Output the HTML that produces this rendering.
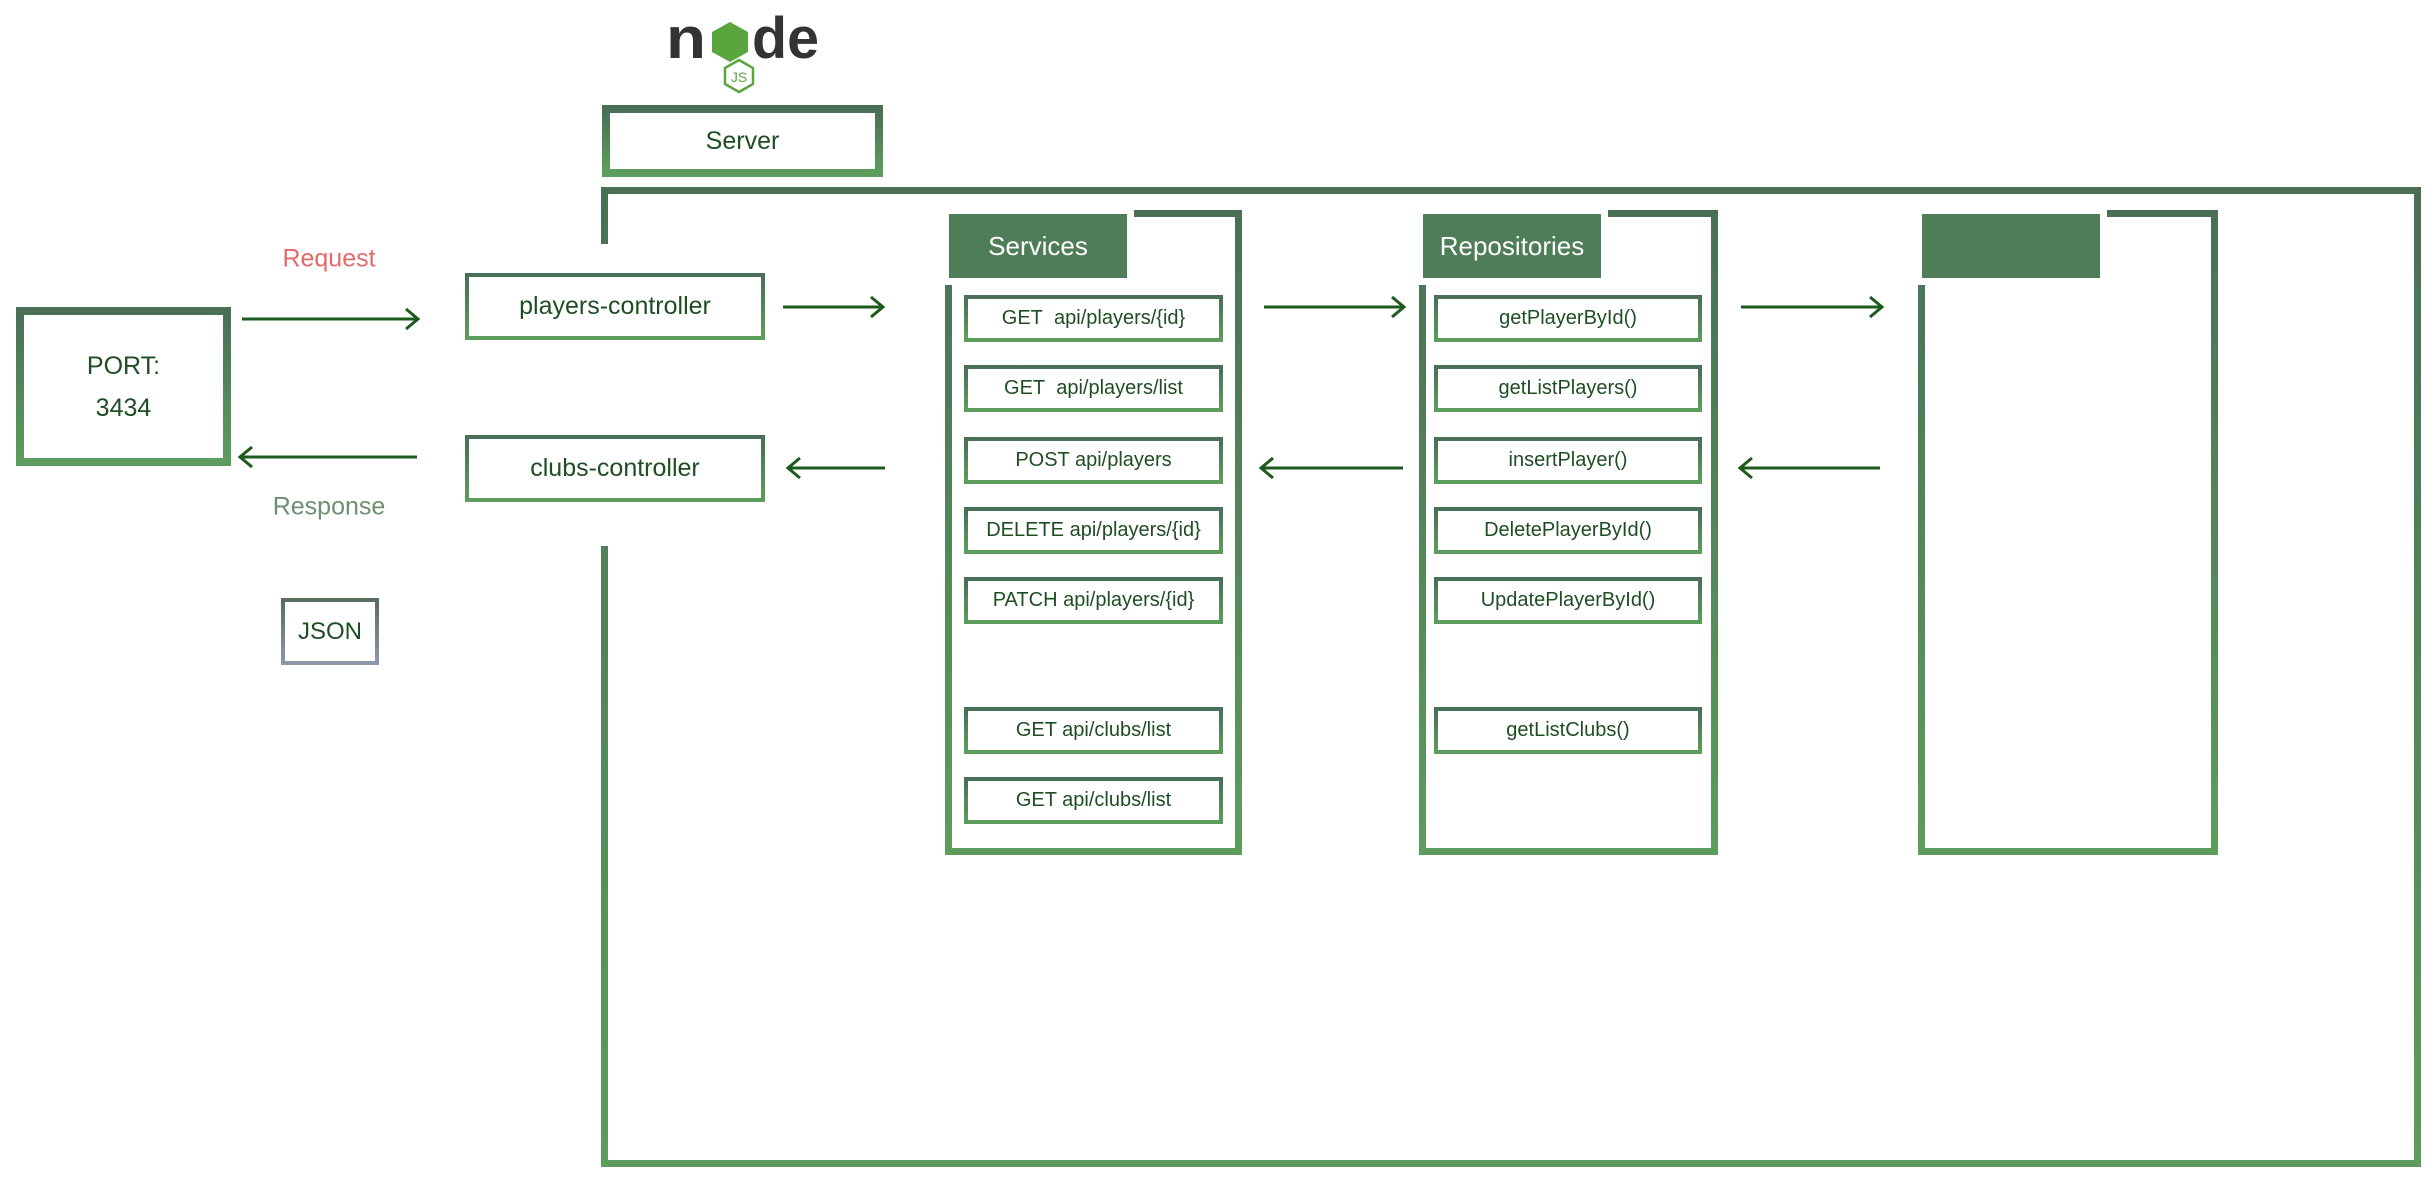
<!DOCTYPE html>
<html><head><meta charset="utf-8"><style>
*{box-sizing:border-box;margin:0;padding:0}
body{width:2434px;height:1189px;background:#fff;position:relative;overflow:hidden;font-family:"Liberation Sans Narrow","Liberation Sans",sans-serif;color:#1f4d24}
.b{position:absolute;border-style:solid;border-image:linear-gradient(#4a6f57,#5c9c5c) 1;display:flex;align-items:center;justify-content:center;text-align:center;background:#fff}
.it{border-width:4px;font-size:20px}
.hd{position:absolute;background:#4f7d57;color:#fff;font-size:26px;display:flex;align-items:center;justify-content:center;box-shadow:0 0 0 7px #fff;z-index:2}
.t{position:absolute;transform:translate(-50%,-50%);white-space:nowrap}
svg{position:absolute;left:0;top:0}
</style></head><body>

<div class="b" style="left:601px;top:187px;width:1820px;height:980px;border-width:7px;background:transparent"></div>
<div style="position:absolute;left:596px;top:244px;width:18px;height:302px;background:#fff"></div>

<svg width="2434" height="1189">
 <text x="666" y="58" font-family="Liberation Sans" font-weight="bold" font-size="58" fill="#333" textLength="40" lengthAdjust="spacingAndGlyphs">n</text>
 <polygon points="730,22 748,32 748,52 730,62 712,52 712,32" fill="#5aa63e"/>
 <text x="752" y="58" font-family="Liberation Sans" font-weight="bold" font-size="58" fill="#333" textLength="67" lengthAdjust="spacingAndGlyphs">de</text>
 <polygon points="739,60 753,68 753,84 739,92 725,84 725,68" fill="none" stroke="#5aa63e" stroke-width="2.5"/>
 <text x="739" y="82" text-anchor="middle" font-family="Liberation Sans" font-size="14" fill="#5aa63e">JS</text>
 <g stroke="#1d5a1d" stroke-width="3" fill="none">
  <line x1="242" y1="319" x2="418" y2="319"/><polyline points="406,309 418,319 406,329"/>
  <line x1="240" y1="457" x2="417" y2="457"/><polyline points="252,447 240,457 252,467"/>
  <line x1="783" y1="307" x2="883" y2="307"/><polyline points="871,297 883,307 871,317"/>
  <line x1="788" y1="468" x2="885" y2="468"/><polyline points="800,458 788,468 800,478"/>
  <line x1="1264" y1="307" x2="1404" y2="307"/><polyline points="1392,297 1404,307 1392,317"/>
  <line x1="1261" y1="468" x2="1403" y2="468"/><polyline points="1273,458 1261,468 1273,478"/>
  <line x1="1741" y1="307" x2="1882" y2="307"/><polyline points="1870,297 1882,307 1870,317"/>
  <line x1="1740" y1="468" x2="1880" y2="468"/><polyline points="1752,458 1740,468 1752,478"/>
 </g>
</svg>

<div class="b" style="left:602px;top:105px;width:281px;height:72px;border-width:8px;font-size:25px">Server</div>

<div class="t" style="left:329px;top:259px;font-size:25px;color:#e36a6a">Request</div>
<div class="t" style="left:329px;top:507px;font-size:25px;color:#6c8f6f">Response</div>

<div class="b" style="left:16px;top:307px;width:215px;height:159px;border-width:8px;font-size:25px;line-height:42px;flex-direction:column">PORT:<br>3434</div>
<div class="b" style="left:281px;top:598px;width:98px;height:67px;border-width:4px;font-size:24px;border-image:linear-gradient(#5a6e60,#8a98a8) 1">JSON</div>

<div class="b it" style="left:465px;top:273px;width:300px;height:67px;font-size:25px">players-controller</div>
<div class="b it" style="left:465px;top:435px;width:300px;height:67px;font-size:25px">clubs-controller</div>

<div class="b" style="left:945px;top:210px;width:297px;height:645px;border-width:7px"></div>
<div class="hd" style="left:949px;top:214px;width:178px;height:64px">Services</div>
<div class="b it" style="left:964px;top:295px;width:259px;height:47px">GET&nbsp; api/players/{id}</div>
<div class="b it" style="left:964px;top:365px;width:259px;height:47px">GET&nbsp; api/players/list</div>
<div class="b it" style="left:964px;top:437px;width:259px;height:47px">POST api/players</div>
<div class="b it" style="left:964px;top:507px;width:259px;height:47px">DELETE api/players/{id}</div>
<div class="b it" style="left:964px;top:577px;width:259px;height:47px">PATCH api/players/{id}</div>
<div class="b it" style="left:964px;top:707px;width:259px;height:47px">GET api/clubs/list</div>
<div class="b it" style="left:964px;top:777px;width:259px;height:47px">GET api/clubs/list</div>

<div class="b" style="left:1419px;top:210px;width:299px;height:645px;border-width:7px"></div>
<div class="hd" style="left:1423px;top:214px;width:178px;height:64px">Repositories</div>
<div class="b it" style="left:1434px;top:295px;width:268px;height:47px">getPlayerById()</div>
<div class="b it" style="left:1434px;top:365px;width:268px;height:47px">getListPlayers()</div>
<div class="b it" style="left:1434px;top:437px;width:268px;height:47px">insertPlayer()</div>
<div class="b it" style="left:1434px;top:507px;width:268px;height:47px">DeletePlayerById()</div>
<div class="b it" style="left:1434px;top:577px;width:268px;height:47px">UpdatePlayerById()</div>
<div class="b it" style="left:1434px;top:707px;width:268px;height:47px">getListClubs()</div>

<div class="b" style="left:1918px;top:210px;width:300px;height:645px;border-width:7px"></div>
<div class="hd" style="left:1922px;top:214px;width:178px;height:64px"></div>

</body></html>
